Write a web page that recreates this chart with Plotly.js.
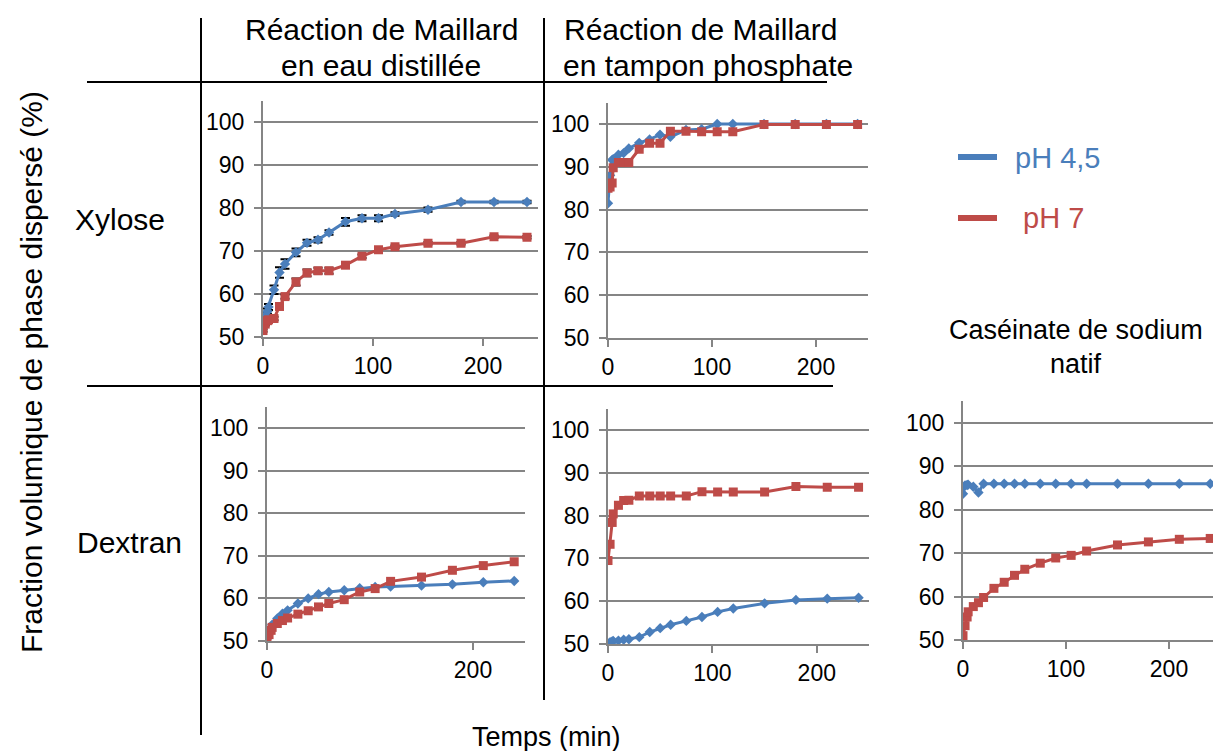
<!DOCTYPE html>
<html>
<head>
<meta charset="utf-8">
<script src="https://cdn.plot.ly/plotly-3.0.1.min.js"></script>
<style>html,body{margin:0;padding:0;background:#fff;overflow:hidden}#chart{width:1213px;height:751px}</style>
</head>
<body>
<div id="chart"></div>
<script>
// ---- Data ----
const time = [0, 2, 4, 5, 10, 15, 20, 30, 40, 50, 60, 75, 90, 105, 120, 150, 180, 210, 240];
const seriesNames = ["pH 4,5", "pH 7"];
const colTitles = [["Réaction de Maillard", "en eau distillée"], ["Réaction de Maillard", "en tampon phosphate"]];
const rowTitles = ["Xylose", "Dextran"];
const nativeTitle = ["Caséinate de sodium", "natif"];
const yTicks = [50, 60, 70, 80, 90, 100];
const xTicks = [0, 100, 200];
const xTicksSparse = [0, 200];

const xylEau_ph45 = [53.5, 55.0, 56.0, 57.0, 61.0, 65.0, 67.0, 69.7, 71.9, 72.6, 74.3, 76.8, 77.6, 77.6, 78.6, 79.6, 81.4, 81.4, 81.4];
const xylEau_ph7  = [51.5, 53.0, 53.8, 54.0, 54.3, 57.1, 59.4, 62.8, 64.9, 65.4, 65.4, 66.7, 68.8, 70.3, 71.0, 71.8, 71.8, 73.3, 73.2];
const xylEau_err45 = [0.5, 0.5, 0.6, 0.7, 1.0, 1.2, 1.1, 0.9, 0.7, 0.6, 0.5, 0.9, 0.7, 0.7, 0.4, 0.5, 0.3, 0.3, 0.3];
const xylEau_err7  = [0.3, 0.3, 0.3, 0.3, 0.4, 0.4, 0.5, 0.8, 0.8, 0.7, 0.7, 0.6, 0.4, 0.3, 0.3, 0.3, 0.3, 0.3, 0.3];

const xylTamp_ph45 = [81.5, 88.0, 91.6, 91.8, 92.8, 93.2, 94.3, 95.6, 96.4, 97.5, 97.0, 98.6, 98.8, 100.0, 100.0, 100.0, 100.0, 100.0, 100.0];
const xylTamp_ph7  = [85.0, 85.3, 86.2, 89.8, 91.0, 91.0, 91.0, 94.1, 95.5, 95.5, 98.3, 98.3, 98.2, 98.2, 98.2, 99.9, 99.9, 99.9, 99.9];

const dexEau_ph45 = [50.5, 52.0, 53.0, 53.8, 55.3, 56.4, 57.2, 58.8, 60.0, 61.0, 61.5, 61.9, 62.4, 62.7, 62.8, 63.0, 63.3, 63.8, 64.1];
const dexEau_ph7  = [50.2, 51.5, 52.5, 53.2, 54.1, 54.8, 55.4, 56.3, 57.1, 58.0, 58.8, 59.7, 61.5, 62.3, 64.0, 65.0, 66.6, 67.7, 68.6];

const dexTamp_ph45 = [50.1, 50.4, 50.6, 50.7, 50.8, 51.0, 51.1, 51.6, 52.8, 53.7, 54.5, 55.4, 56.3, 57.5, 58.3, 59.5, 60.3, 60.6, 60.8];
const dexTamp_ph7  = [69.5, 73.3, 78.4, 80.4, 82.4, 83.5, 83.6, 84.6, 84.6, 84.6, 84.6, 84.6, 85.6, 85.5, 85.5, 85.5, 86.8, 86.6, 86.6];

const cas_ph45 = [83.7, 85.6, 85.7, 85.8, 85.3, 84.0, 86.0, 86.0, 86.0, 86.0, 86.0, 86.0, 86.0, 86.0, 86.0, 86.0, 86.0, 86.0, 86.0];
const cas_ph7  = [51.0, 53.3, 55.3, 56.5, 57.7, 58.6, 59.8, 61.9, 63.3, 64.9, 66.3, 67.7, 68.9, 69.5, 70.5, 71.9, 72.6, 73.2, 73.4];

// ---- Styling ----
const W = 1213, H = 751;
const BLUE = "#4A7EBB", RED = "#BE4B48", GRID = "#858585";
const FONT = "Liberation Sans, Arial, sans-serif";
const px = x => x / W;
const py = y => 1 - y / H;

function blue(x, y, xa, ya, err) {
  const t = {x: x, y: y, xaxis: xa, yaxis: ya, type: "scatter", mode: "lines+markers", name: seriesNames[0],
    line: {color: BLUE, width: 3}, marker: {symbol: "diamond", size: 8, color: BLUE}};
  if (err) t.error_y = {type: "data", array: err, visible: true, color: "#000", thickness: 2, width: 4.5};
  return t;
}
function red(x, y, xa, ya, err) {
  const t = {x: x, y: y, xaxis: xa, yaxis: ya, type: "scatter", mode: "lines+markers", name: seriesNames[1],
    line: {color: RED, width: 3}, marker: {symbol: "square", size: 9, color: RED}};
  if (err) t.error_y = {type: "data", array: err, visible: true, color: "#000", thickness: 2, width: 4.5};
  return t;
}

const data = [
  blue(time, xylEau_ph45, "x", "y", xylEau_err45), red(time, xylEau_ph7, "x", "y", xylEau_err7),
  blue(time, xylTamp_ph45, "x2", "y2"), red(time, xylTamp_ph7, "x2", "y2"),
  blue(time, dexEau_ph45, "x3", "y3"), red(time, dexEau_ph7, "x3", "y3"),
  blue(time, dexTamp_ph45, "x4", "y4"), red(time, dexTamp_ph7, "x4", "y4"),
  blue(time, cas_ph45, "x5", "y5"), red(time, cas_ph7, "x5", "y5")
];

function xa(l, r, anchor, range, ticks) {
  return {domain: [px(l), px(r)], anchor: anchor, range: range, tickvals: ticks, ticktext: ticks.map(String),
    showgrid: false, zeroline: false, showline: true, linecolor: GRID, linewidth: 2,
    ticks: "outside", ticklen: 7, tickcolor: GRID, tickwidth: 2,
    tickfont: {family: FONT, size: 23, color: "#000"}, fixedrange: true};
}
function ya(top, bottom, anchor) {
  return {domain: [py(bottom), py(top)], anchor: anchor, range: [50, 105], tickvals: yTicks, ticktext: yTicks.map(String),
    showgrid: true, gridcolor: GRID, gridwidth: 2, zeroline: false, showline: true, linecolor: GRID, linewidth: 2,
    ticks: "outside", ticklen: 7, tickcolor: GRID, tickwidth: 2, ticklabelstandoff: 5,
    tickfont: {family: FONT, size: 23, color: "#000"}, fixedrange: true};
}

function ann(text, x, y, size, color, xanchor, angle) {
  return {text: text, x: px(x), y: py(y), xref: "paper", yref: "paper", showarrow: false,
    xanchor: xanchor || "center", yanchor: "middle", textangle: angle || 0,
    font: {family: FONT, size: size, color: color || "#000"}};
}

const annotations = [
  ann(colTitles[0][0], 381, 30, 30), ann(colTitles[0][1], 381, 66, 30),
  ann(colTitles[1][0], 700, 30, 30), ann(colTitles[1][1], 708, 66, 30),
  ann(rowTitles[0], 120, 219, 30), ann(rowTitles[1], 129, 542, 30),
  ann(nativeTitle[0], 1076, 330, 27), ann(nativeTitle[1], 1076, 364, 27),
  ann("Fraction volumique de phase dispersé (%)", 31, 372, 30, "#000", "center", -90),
  ann("Temps (min)", 546, 737, 27),
  ann(seriesNames[0], 1013, 158, 29, BLUE, "left"),
  ann(seriesNames[1], 1021, 218, 29, RED, "left")
];

function line(x0, y0, x1, y1, color, width) {
  return {type: "line", xref: "paper", yref: "paper", x0: px(x0), y0: py(y0), x1: px(x1), y1: py(y1),
    line: {color: color, width: width}};
}
const shapes = [
  line(201, 18, 201, 735, "#000", 2),
  line(544, 18, 544, 700, "#000", 2),
  line(87, 82, 827, 82, "#000", 2),
  line(87, 386, 833, 386, "#000", 2),
  line(958, 157, 997, 157, BLUE, 6),
  line(958, 218, 997, 218, RED, 6)
];

const layout = {
  width: W, height: H, margin: {l: 0, r: 0, t: 0, b: 0},
  paper_bgcolor: "#fff", plot_bgcolor: "rgba(0,0,0,0)", showlegend: false,
  font: {family: FONT},
  xaxis: xa(263, 538, "y", [0, 250], xTicks), yaxis: ya(100.5, 337, "x"),
  xaxis2: xa(608, 868, "y2", [0, 250], xTicks), yaxis2: ya(102.6, 338, "x2"),
  xaxis3: xa(267, 524.5, "y3", [0, 250], xTicksSparse), yaxis3: ya(406.7, 641, "x3"),
  xaxis4: xa(608, 869, "y4", [0, 250], xTicks), yaxis4: ya(408.6, 644, "x4"),
  xaxis5: xa(963, 1213, "y5", [0, 242.7], xTicks), yaxis5: ya(401.3, 640, "x5"),
  annotations: annotations, shapes: shapes
};

Plotly.newPlot("chart", data, layout, {displayModeBar: false, staticPlot: true});
</script>
</body>
</html>
